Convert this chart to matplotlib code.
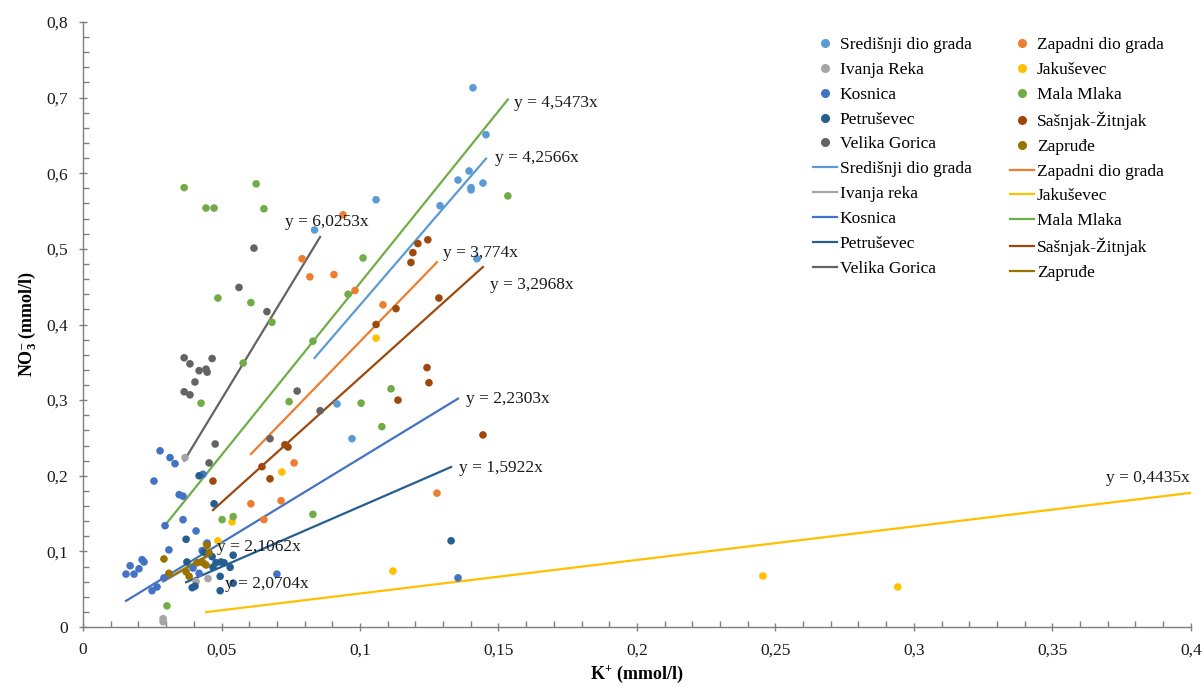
import matplotlib
matplotlib.use("Agg")
import matplotlib.pyplot as plt
from matplotlib.lines import Line2D
from matplotlib.ticker import MultipleLocator, FuncFormatter

plt.rcParams['font.family'] = ['Liberation Serif', 'DejaVu Serif']
plt.rcParams['mathtext.fontset'] = 'custom'
plt.rcParams['mathtext.rm'] = 'Liberation Serif'
plt.rcParams['mathtext.bf'] = 'Liberation Serif:bold'
plt.rcParams['mathtext.it'] = 'Liberation Serif:italic'

# ---------------- data ----------------
series_names = ["Središnji dio grada", "Zapadni dio grada", "Ivanja Reka", "Jakuševec",
                "Kosnica", "Mala Mlaka", "Petruševec", "Sašnjak-Žitnjak",
                "Velika Gorica", "Zapruđe"]
line_names = ["Središnji dio grada", "Zapadni dio grada", "Ivanja reka", "Jakuševec",
              "Kosnica", "Mala Mlaka", "Petruševec", "Sašnjak-Žitnjak",
              "Velika Gorica", "Zapruđe"]
colors = ["#5B9BD5", "#ED7D31", "#A5A5A5", "#FFC000", "#4472C4",
          "#70AD47", "#255E91", "#9E480E", "#636363", "#997300"]

sredisnji_x = [0.1408, 0.1455, 0.1394, 0.1354, 0.1401, 0.1401, 0.1444, 0.1289, 0.1422,
               0.1058, 0.0836, 0.0917, 0.0971]
sredisnji_y = [0.713, 0.651, 0.603, 0.591, 0.581, 0.578, 0.587, 0.557, 0.487,
               0.565, 0.525, 0.295, 0.249]

zapadni_x = [0.0791, 0.0819, 0.0906, 0.0982, 0.1083, 0.0939, 0.0762, 0.0715, 0.0606,
             0.0653, 0.1278]
zapadni_y = [0.487, 0.463, 0.466, 0.445, 0.426, 0.545, 0.217, 0.167, 0.163,
             0.142, 0.177]

ivanja_x = [0.0289, 0.0289, 0.0368, 0.0408, 0.0451]
ivanja_y = [0.011, 0.007, 0.224, 0.060, 0.064]

jakusevec_x = [0.1119, 0.2942, 0.2455, 0.1058, 0.0718, 0.0538, 0.0487, 0.0444]
jakusevec_y = [0.074, 0.053, 0.0675, 0.382, 0.205, 0.139, 0.114, 0.110]

kosnica_x = [0.0278, 0.0314, 0.0332, 0.0256, 0.0347, 0.0361, 0.0433, 0.0361, 0.0296,
             0.0408, 0.0310, 0.0155, 0.0170, 0.0184, 0.0202, 0.0213, 0.0220, 0.0249,
             0.0267, 0.0292, 0.0310, 0.0397, 0.0419, 0.0448, 0.0430, 0.0700, 0.1354]
kosnica_y = [0.233, 0.224, 0.216, 0.193, 0.175, 0.173, 0.202, 0.142, 0.134,
             0.127, 0.102, 0.070, 0.081, 0.070, 0.077, 0.089, 0.086, 0.048,
             0.053, 0.065, 0.070, 0.078, 0.071, 0.111, 0.101, 0.070, 0.065]

mala_x = [0.0365, 0.0444, 0.0473, 0.0625, 0.0653, 0.0487, 0.0606, 0.0682, 0.0578,
          0.0426, 0.0744, 0.1011, 0.0957, 0.0830, 0.1112, 0.1004, 0.1079, 0.1534,
          0.0830, 0.0502, 0.0542, 0.0303]
mala_y = [0.581, 0.554, 0.554, 0.586, 0.553, 0.435, 0.429, 0.403, 0.349,
          0.296, 0.298, 0.488, 0.440, 0.378, 0.315, 0.296, 0.265, 0.570,
          0.149, 0.142, 0.146, 0.028]

petrusevec_x = [0.0372, 0.0419, 0.0473, 0.0394, 0.0404, 0.0437, 0.0466, 0.0480, 0.0498,
                0.0509, 0.0531, 0.0542, 0.0542, 0.0495, 0.0495, 0.0469, 0.1329, 0.0375]
petrusevec_y = [0.116, 0.200, 0.163, 0.052, 0.054, 0.099, 0.093, 0.085, 0.086,
                0.085, 0.079, 0.095, 0.058, 0.067, 0.048, 0.079, 0.114, 0.086]

sasnjak_x = [0.1209, 0.1245, 0.1191, 0.1184, 0.1285, 0.1130, 0.1058, 0.1242, 0.1249,
             0.1137, 0.1444, 0.0740, 0.0729, 0.0646, 0.0675, 0.0469]
sasnjak_y = [0.507, 0.512, 0.495, 0.482, 0.435, 0.421, 0.400, 0.343, 0.323,
             0.300, 0.254, 0.238, 0.241, 0.212, 0.196, 0.193]

velika_x = [0.0617, 0.0563, 0.0664, 0.0365, 0.0386, 0.0419, 0.0444, 0.0448, 0.0466,
            0.0404, 0.0365, 0.0386, 0.0773, 0.0856, 0.0675, 0.0477, 0.0455]
velika_y = [0.501, 0.449, 0.417, 0.356, 0.348, 0.339, 0.341, 0.337, 0.355,
            0.324, 0.311, 0.307, 0.312, 0.286, 0.249, 0.242, 0.217]

zaprude_x = [0.0292, 0.0310, 0.0383, 0.0372, 0.0412, 0.0433, 0.0444, 0.0455, 0.0448]
zaprude_y = [0.090, 0.071, 0.067, 0.073, 0.085, 0.085, 0.082, 0.098, 0.108]

# trendline slopes (y = a*x, through origin)
slopes = [4.2566, 3.774, 2.0704, 0.4435, 2.2303, 4.5473, 1.5922, 3.2968, 6.0253, 2.1062]
eq_labels = ["y = 4,2566x", "y = 3,774x", "y = 2,0704x", "y = 0,4435x", "y = 2,2303x",
             "y = 4,5473x", "y = 1,5922x", "y = 3,2968x", "y = 6,0253x", "y = 2,1062x"]
# trendline forward forecast (Jakuševec extends to axis end)
forecast_to = [None, None, None, 0.4, None, None, None, None, None, None]

xs = [sredisnji_x, zapadni_x, ivanja_x, jakusevec_x, kosnica_x,
      mala_x, petrusevec_x, sasnjak_x, velika_x, zaprude_x]
ys = [sredisnji_y, zapadni_y, ivanja_y, jakusevec_y, kosnica_y,
      mala_y, petrusevec_y, sasnjak_y, velika_y, zaprude_y]

# equation label positions (data coords) and alignment
label_pos = [(0.1487, 0.620, 'left'), (0.1300, 0.495, 'left'), (0.0513, 0.057, 'left'),
             (0.3995, 0.197, 'right'), (0.1383, 0.302, 'left'), (0.1556, 0.693, 'left'),
             (0.1357, 0.210, 'left'), (0.1469, 0.452, 'left'), (0.0729, 0.536, 'left'),
             (0.0484, 0.106, 'left')]

# ---------------- plot ----------------
fig = plt.figure(figsize=(12.04, 6.87), dpi=100)
ax = fig.add_axes([0.069, 0.0873, 0.920, 0.8807])

FS = 12.5
scatter_handles = []
line_handles = []
for i in range(10):
    ax.scatter(xs[i], ys[i], s=30, color=colors[i], edgecolors='none', zorder=3)
    x0 = min(xs[i])
    x1 = forecast_to[i] if forecast_to[i] is not None else max(xs[i])
    ax.plot([x0, x1], [slopes[i] * x0, slopes[i] * x1], color=colors[i],
            lw=1.6, zorder=2)
    scatter_handles.append(Line2D([], [], marker='o', ls='none', color=colors[i],
                                  markersize=5.5, label=series_names[i]))
    line_handles.append(Line2D([], [], color=colors[i], lw=1.6, label=line_names[i]))

for i in range(10):
    lx, ly, ha = label_pos[i]
    ax.text(lx, ly, eq_labels[i], fontsize=FS, ha=ha, va='center', color='#1a1a1a', zorder=4)

ax.set_xlim(0, 0.4)
ax.set_ylim(0, 0.8)
ax.xaxis.set_major_locator(MultipleLocator(0.05))
ax.xaxis.set_minor_locator(MultipleLocator(0.01))
ax.yaxis.set_major_locator(MultipleLocator(0.1))
ax.yaxis.set_minor_locator(MultipleLocator(0.02))

def fmt(v, pos):
    s = ("%.2f" % v).rstrip('0').rstrip('.')
    return s.replace('.', ',')

ax.xaxis.set_major_formatter(FuncFormatter(fmt))
ax.yaxis.set_major_formatter(FuncFormatter(fmt))

for side in ['top', 'right']:
    ax.spines[side].set_visible(False)
for side in ['left', 'bottom']:
    ax.spines[side].set_color('#7f7f7f')
    ax.spines[side].set_linewidth(1.0)

ax.tick_params(which='major', direction='inout', length=6, width=1, color='#7f7f7f',
               labelsize=FS, labelcolor='#1a1a1a', pad=8)
ax.tick_params(which='minor', direction='in', length=4, width=1, color='#7f7f7f')

ax.set_xlabel(r"$\mathbf{K^{+}}$ (mmol/l)", fontsize=13, fontweight='bold', labelpad=4)
ax.set_ylabel("$\\mathbf{NO_{3}^{\u2013}}$ (mmol/l)", fontsize=13, fontweight='bold', labelpad=6)

# legend: column 1 then column 2
col1 = [0, 2, 4, 6, 8]
col2 = [1, 3, 5, 7, 9]
handles = ([scatter_handles[i] for i in col1] + [line_handles[i] for i in col1] +
           [scatter_handles[i] for i in col2] + [line_handles[i] for i in col2])
fig.legend(handles=handles, ncol=2, loc='upper left',
           bbox_to_anchor=(806 / 1204, 1 - 30 / 687), frameon=False,
           fontsize=FS, handlelength=1.4, handletextpad=0.15,
           labelspacing=0.5, columnspacing=2.2, borderaxespad=0)

fig.savefig("out.png", dpi=100)
